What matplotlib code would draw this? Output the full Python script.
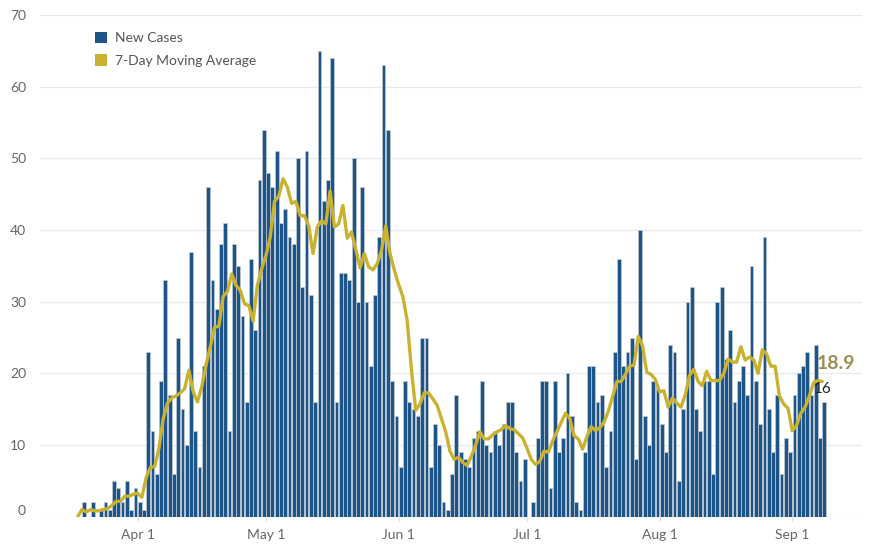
import matplotlib
matplotlib.use("Agg")
import matplotlib.pyplot as plt
import matplotlib.dates as mdates
from matplotlib.patches import Patch
import pandas as pd
import numpy as np

plt.rcParams['font.family'] = ['Lato', 'DejaVu Sans']

# daily new cases, one value per day starting 2020-03-18
start_date = "2020-03-18"
new_cases = [
    0, 2, 0, 2, 0, 1, 2, 1, 5, 4, 2, 5, 1, 4,          # Mar 18 - Mar 31
    2, 1, 23, 12, 6, 19, 33, 17, 6, 25, 15, 10, 37, 12, 7,  # Apr 1 - Apr 15
    21, 46, 33, 29, 38, 41, 12, 38, 35, 28, 16, 36, 26, 47, 54,  # Apr 16 - Apr 30
    48, 46, 51, 41, 43, 39, 38, 50, 32, 51, 31, 16, 65, 44, 47, 64,  # May 1 - May 16
    16, 34, 34, 33, 50, 30, 46, 30, 21, 31, 39, 63, 54, 19, 14,  # May 17 - May 31
    7, 19, 16, 15, 14, 25, 25, 7, 13, 10, 2, 1, 6, 17, 9,  # Jun 1 - Jun 15
    8, 7, 11, 12, 19, 10, 9, 12, 10, 13, 16, 16, 9, 5, 8,  # Jun 16 - Jun 30
    0, 2, 11, 19, 19, 4, 19, 9, 11, 20, 14, 2, 1, 9, 21, 21,  # Jul 1 - Jul 16
    16, 17, 7, 12, 23, 36, 21, 23, 25, 8, 40, 14, 10, 19, 18,  # Jul 17 - Jul 31
    13, 9, 24, 23, 5, 15, 30, 32, 15, 12, 19, 19, 6, 30, 32, 22,  # Aug 1 - Aug 16
    26, 16, 19, 21, 17, 35, 19, 13, 39, 15, 9, 17, 6, 11, 9,  # Aug 17 - Aug 31
    17, 20, 21, 23, 17, 24, 11, 16,  # Sep 1 - Sep 8
]
legend_labels = ["New Cases", "7-Day Moving Average"]

bar_color = "#1e5588"
line_color = "#c9b22f"

dates = pd.date_range(start_date, periods=len(new_cases), freq="D")
cases = pd.Series(new_cases, index=dates)
moving_avg = cases.rolling(7, min_periods=1).mean()

fig = plt.figure(figsize=(8.69, 5.44), dpi=100)
ax = fig.add_axes([40 / 869, (544 - 516.7) / 544, (862 - 40) / 869, (516.7 - 15) / 544])

ax.bar(dates + pd.Timedelta(hours=12), cases.values, width=0.88,
       color=bar_color, edgecolor="#c4ccd5", linewidth=0.5, zorder=2)
ax.plot(dates, moving_avg.values, color=line_color, lw=2.4,
        solid_joinstyle="round", solid_capstyle="round", zorder=3)

ax.set_ylim(0, 70)
ax.set_yticks(np.arange(0, 71, 10))
ax.set_xlim(dates[0] - pd.Timedelta(days=8.8), dates[0] + pd.Timedelta(days=183.3))
ax.xaxis.set_major_locator(mdates.MonthLocator(bymonth=[4, 5, 6, 7, 8, 9]))
ax.xaxis.set_major_formatter(mdates.DateFormatter("%b %-d"))

ax.grid(axis="y", color="#e9e9e9", lw=0.9, zorder=0)
ax.set_axisbelow(True)
for s in ax.spines.values():
    s.set_visible(False)
ax.tick_params(axis="y", length=0, pad=10, labelsize=10, labelcolor="#666666")
ax.tick_params(axis="x", length=3, color="#dddddd", pad=6, labelsize=10,
               labelcolor="#666666")
for lab in ax.get_yticklabels():
    lab.set_horizontalalignment("right")
ax.get_yticklabels()[0].set_verticalalignment("bottom")

# end labels
last_day = dates[-1]
ax.annotate(f"{moving_avg.iloc[-1]:.1f}", (last_day, moving_avg.iloc[-1]),
            xytext=(-4, 13), textcoords="offset points", ha="left", va="center",
            fontsize=14, fontweight="bold", color="#9a9150", zorder=5)
ax.annotate(f"{new_cases[-1]}", (last_day + pd.Timedelta(hours=12), new_cases[-1]),
            xytext=(-1, 9.5), textcoords="offset points", ha="center", va="center",
            fontsize=11, color="#222222", zorder=5)

handles = [Patch(facecolor=bar_color, edgecolor="none"),
           Patch(facecolor=line_color, edgecolor="none")]
ax.legend(handles, legend_labels, loc="upper left",
          bbox_to_anchor=(82 / 869, 1 - 19 / 544), bbox_transform=fig.transFigure,
          frameon=False, fontsize=10, labelcolor="#555555",
          handlelength=0.9, handleheight=0.9, handletextpad=0.6, labelspacing=0.75)

fig.savefig("out.png", dpi=100)
